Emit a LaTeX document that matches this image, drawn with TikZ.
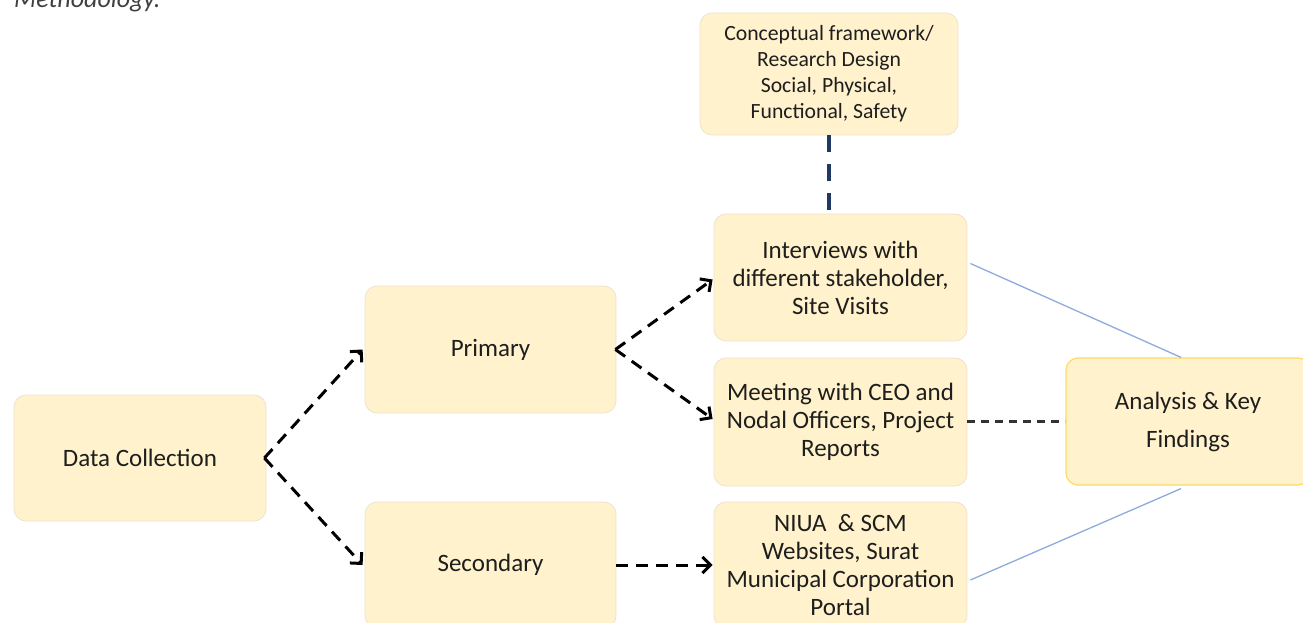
\documentclass[tikz,border=0pt]{standalone}
\usepackage{fontspec}
\setmainfont{Carlito}
\usetikzlibrary{arrows.meta,calc}
\definecolor{boxfill}{HTML}{FFF2CC}
\definecolor{boxedge}{HTML}{EDE3CF}
\definecolor{goldedge}{HTML}{FFD966}
\definecolor{txt}{HTML}{1E1E1E}
\definecolor{navy}{HTML}{1F3864}
\definecolor{lightblue}{HTML}{8FAADC}
\tikzset{
  box/.style={draw=boxedge, line width=0.8pt, fill=boxfill, rounded corners=12pt,
    align=center, text=txt, inner sep=0pt, font=\fontsize{25}{28}\selectfont},
  flow/.style={draw=black, line width=3pt, dash pattern=on 12pt off 8pt,
    -{Straight Barb[length=8pt,width=16pt,line width=3pt]}},
  linkdash/.style={draw=black!80, line width=2.7pt, dash pattern=on 8pt off 6pt},
  navydash/.style={draw=navy, line width=4pt, dash pattern=on 17pt off 12pt},
  bluelink/.style={draw=lightblue, line width=1.3pt}
}
\begin{document}
\begin{tikzpicture}[x=1pt,y=-1pt]
\useasboundingbox (0,0) rectangle (1303,623);
\clip (0,0) rectangle (1303,623);
\node[anchor=base west, font=\fontsize{26}{30}\selectfont\itshape, text=black!75, inner sep=0pt] (cap) at (14,8) {Methodology.};

\node[box, minimum width=252pt, minimum height=126pt] (dc) at (140,458) {Data Collection};
\node[box, minimum width=251pt, minimum height=127pt] (pri) at (490.5,349.5) {Primary};
\node[box, minimum width=251pt, minimum height=126pt] (sec) at (490.5,565) {Secondary};
\node[box, minimum width=258pt, minimum height=122pt, font=\fontsize{21.7}{26}\selectfont] (cf) at (829,74) {Conceptual framework/\\Research Design\\Social, Physical,\\Functional, Safety};
\node[box, minimum width=253pt, minimum height=127pt] (int) at (840.5,277.5) {Interviews with\\different stakeholder,\\Site Visits};
\node[box, minimum width=253pt, minimum height=128pt] (meet) at (840.5,422) {Meeting with CEO and\\Nodal Officers, Project\\Reports};
\node[box, minimum width=253pt, minimum height=126pt] (niua) at (840.5,565) {NIUA \ \& SCM\\Websites, Surat\\Municipal Corporation\\Portal};
\node[box, draw=goldedge, line width=1.2pt, minimum width=244pt, minimum height=127pt, font=\fontsize{25}{38}\selectfont] (ana) at (1188,421.5) {Analysis \& Key\\Findings};

\draw[flow] ($(dc.east)+(-2,0)$) -- ($(pri.west)+(-2,0)$);
\draw[flow] ($(dc.east)+(-2,0)$) -- ($(sec.west)+(-2,0)$);
\draw[flow] ($(pri.east)+(-1,0)$) -- ($(int.west)+(-1,2)$);
\draw[flow] ($(pri.east)+(-1,0)$) -- ($(meet.west)+(-1,-3)$);
\draw[flow] (sec.east) -- ($(niua.west)+(-1,0)$);
\draw[navydash] (cf.south) -- (cf.south |- int.north);
\draw[linkdash] (meet.east |- ana.west) -- (ana.west);
\draw[bluelink] ($(int.east)+(3,-14)$) -- ($(ana.north)+(-7,0)$);
\draw[bluelink] ($(niua.east)+(3,15)$) -- ($(ana.south)+(-7,3)$);
\end{tikzpicture}
\end{document}
